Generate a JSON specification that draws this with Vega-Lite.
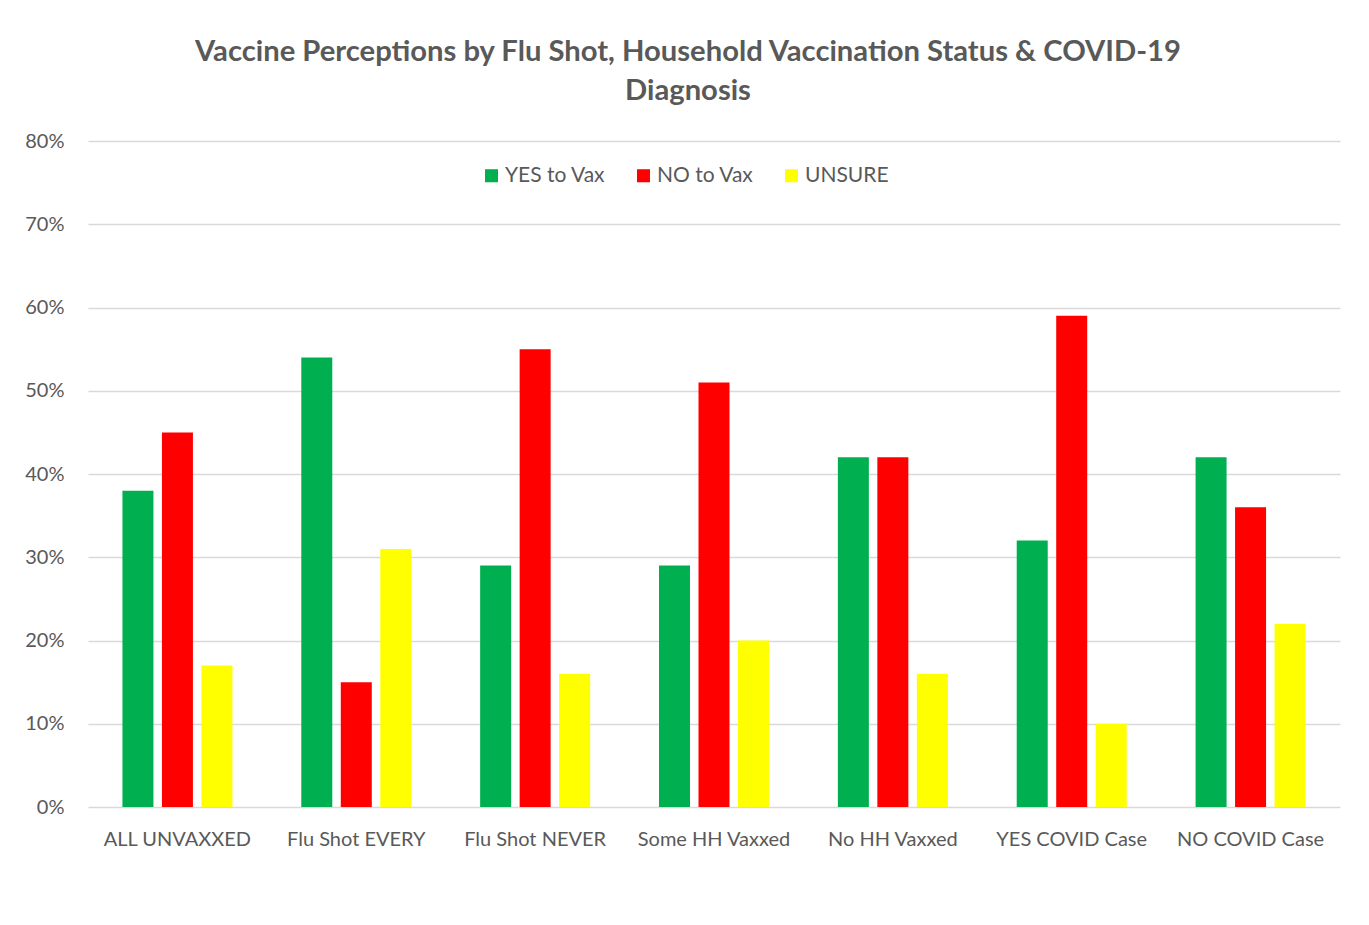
{
  "$schema": "https://vega.github.io/schema/vega-lite/v6.json",
  "autosize": {"type": "none"},
  "width": 1252,
  "height": 666,
  "padding": {"left": 88, "top": 141, "right": 29, "bottom": 118},
  "background": "white",
  "title": {
    "text": ["Vaccine Perceptions by Flu Shot, Household Vaccination Status & COVID-19", "Diagnosis"],
    "font": "Lato",
    "fontSize": 29.2,
    "fontWeight": "bold",
    "color": "#595959",
    "lineHeight": 39,
    "anchor": "middle",
    "dx": -26,
    "offset": 25
  },
  "data": {
    "values": [
      {"group": "ALL UNVAXXED", "response": "YES to Vax", "value": 0.38},
      {"group": "ALL UNVAXXED", "response": "NO to Vax", "value": 0.45},
      {"group": "ALL UNVAXXED", "response": "UNSURE", "value": 0.17},
      {"group": "Flu Shot EVERY", "response": "YES to Vax", "value": 0.54},
      {"group": "Flu Shot EVERY", "response": "NO to Vax", "value": 0.15},
      {"group": "Flu Shot EVERY", "response": "UNSURE", "value": 0.31},
      {"group": "Flu Shot NEVER", "response": "YES to Vax", "value": 0.29},
      {"group": "Flu Shot NEVER", "response": "NO to Vax", "value": 0.55},
      {"group": "Flu Shot NEVER", "response": "UNSURE", "value": 0.16},
      {"group": "Some HH Vaxxed", "response": "YES to Vax", "value": 0.29},
      {"group": "Some HH Vaxxed", "response": "NO to Vax", "value": 0.51},
      {"group": "Some HH Vaxxed", "response": "UNSURE", "value": 0.20},
      {"group": "No HH Vaxxed", "response": "YES to Vax", "value": 0.42},
      {"group": "No HH Vaxxed", "response": "NO to Vax", "value": 0.42},
      {"group": "No HH Vaxxed", "response": "UNSURE", "value": 0.16},
      {"group": "YES COVID Case", "response": "YES to Vax", "value": 0.32},
      {"group": "YES COVID Case", "response": "NO to Vax", "value": 0.59},
      {"group": "YES COVID Case", "response": "UNSURE", "value": 0.10},
      {"group": "NO COVID Case", "response": "YES to Vax", "value": 0.42},
      {"group": "NO COVID Case", "response": "NO to Vax", "value": 0.36},
      {"group": "NO COVID Case", "response": "UNSURE", "value": 0.22}
    ]
  },
  "mark": {"type": "bar"},
  "encoding": {
    "x": {
      "field": "group",
      "type": "nominal",
      "sort": null,
      "title": null,
      "scale": {"paddingInner": 0.385, "paddingOuter": 0.1925},
      "axis": {
        "labelAngle": 0,
        "labelFont": "Lato",
        "labelFontSize": 20,
        "labelColor": "#595959",
        "labelPadding": 32,
        "ticks": false,
        "domain": false,
        "labelBaseline": "middle",
        "labelLimit": 0
      }
    },
    "xOffset": {
      "field": "response",
      "type": "nominal",
      "sort": ["YES to Vax", "NO to Vax", "UNSURE"],
      "scale": {"paddingInner": 0.215, "paddingOuter": 0}
    },
    "y": {
      "field": "value",
      "type": "quantitative",
      "title": null,
      "scale": {"domain": [0, 0.8], "nice": false},
      "axis": {
        "format": ".0%",
        "values": [0, 0.1, 0.2, 0.3, 0.4, 0.5, 0.6, 0.7, 0.8],
        "labelOverlap": false,
        "labelFont": "Lato",
        "labelFontSize": 20,
        "labelColor": "#595959",
        "labelPadding": 24,
        "ticks": false,
        "domain": false,
        "grid": true,
        "gridColor": "#d9d9d9",
        "gridWidth": 1.5
      }
    },
    "color": {
      "field": "response",
      "type": "nominal",
      "sort": ["YES to Vax", "NO to Vax", "UNSURE"],
      "scale": {"domain": ["YES to Vax", "NO to Vax", "UNSURE"], "range": ["#00B050", "#FF0000", "#FFFF00"]},
      "legend": {
        "title": null,
        "orient": "none",
        "direction": "horizontal",
        "legendX": 393,
        "legendY": 24,
        "symbolType": "square",
        "symbolSize": 170,
        "symbolStrokeWidth": 0,
        "labelFont": "Lato",
        "labelFontSize": 21,
        "labelColor": "#595959",
        "labelOffset": 3,
        "columnPadding": 27
      }
    }
  },
  "config": {
    "view": {"stroke": null}
  }
}
